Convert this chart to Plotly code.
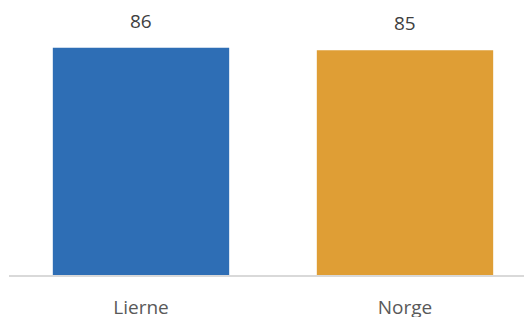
import plotly.graph_objects as go

categories = ["Lierne", "Norge"]
values = [86, 85]
colors = ["#2E6EB5", "#DF9E35"]

fig = go.Figure()
fig.add_trace(go.Bar(x=categories, y=values, marker=dict(color=colors, line=dict(width=0)),
                     hoverinfo="skip"))
for c, v in zip(categories, values):
    fig.add_annotation(x=c, y=v, text=str(v), showarrow=False, yanchor="bottom", yshift=12,
                       font=dict(family="Open Sans", size=19, color="#404040"))

fig.update_layout(
    width=532, height=317,
    margin=dict(l=1, r=3, t=0, b=50, autoexpand=False),
    paper_bgcolor="white", plot_bgcolor="white",
    bargap=0.332,
    showlegend=False,
    xaxis=dict(showline=True, linecolor="#D9D9D9", linewidth=1.5, ticks="outside", ticklen=14,
               tickcolor="rgba(0,0,0,0)", tickfont=dict(family="Open Sans", size=19, color="#595959"),
               showgrid=False, automargin=False),
    yaxis=dict(range=[0, 101], visible=False, showgrid=False, zeroline=False, automargin=False),
)
fig.write_html("out.html")
